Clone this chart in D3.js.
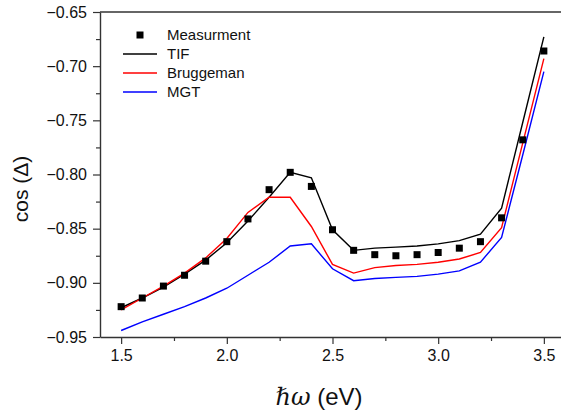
<!DOCTYPE html>
<html>
<head>
<meta charset="utf-8">
<script src="https://cdn.jsdelivr.net/npm/d3@7"></script>
<style>
  html, body { margin: 0; padding: 0; background: #fff; }
  svg { display: block; font-family: "Liberation Sans", Arial, sans-serif; }
</style>
</head>
<body>
<svg id="chart" width="561" height="413"></svg>
<script>
// Photon energy (eV)
const energy = [1.5, 1.6, 1.7, 1.8, 1.9, 2.0, 2.1, 2.2, 2.3, 2.4, 2.5,
                2.6, 2.7, 2.8, 2.9, 3.0, 3.1, 3.2, 3.3, 3.4, 3.5];

// cos(Δ) – measured
const measurement = [-0.922, -0.914, -0.903, -0.893, -0.880, -0.862, -0.841, -0.814, -0.798, -0.811, -0.851,
                     -0.870, -0.874, -0.875, -0.874, -0.872, -0.868, -0.862, -0.840, -0.768, -0.686];
// cos(Δ) – models
const tif        = [-0.923, -0.914, -0.904, -0.892, -0.879, -0.863, -0.843, -0.821, -0.798, -0.803, -0.851,
                    -0.870, -0.868, -0.867, -0.866, -0.864, -0.861, -0.855, -0.831, -0.752, -0.673];
const bruggeman  = [-0.925, -0.914, -0.903, -0.891, -0.877, -0.859, -0.835, -0.821, -0.821, -0.848, -0.883,
                    -0.891, -0.886, -0.884, -0.883, -0.881, -0.878, -0.872, -0.849, -0.771, -0.693];
const mgt        = [-0.944, -0.936, -0.929, -0.922, -0.914, -0.905, -0.893, -0.881, -0.866, -0.864, -0.887,
                    -0.898, -0.896, -0.895, -0.894, -0.892, -0.889, -0.881, -0.858, -0.782, -0.705];

const xTicks = [1.5, 2.0, 2.5, 3.0, 3.5];
const xMinor = [1.75, 2.25, 2.75, 3.25];
const yTicks = [-0.95, -0.90, -0.85, -0.80, -0.75, -0.70, -0.65];
const yMinor = [-0.925, -0.875, -0.825, -0.775, -0.725, -0.675];

const legendItems = [
  { name: "Measurment", type: "marker", color: "#000" },
  { name: "TIF", type: "line", color: "#000" },
  { name: "Bruggeman", type: "line", color: "#ff0000" },
  { name: "MGT", type: "line", color: "#0000ff" }
];

const svg = d3.select("#chart");
const plotL = 100, plotR = 565, plotT = 12, plotB = 337;
const axisColor = "#333";

const x = d3.scaleLinear().domain([1.4, 3.6]).range([plotL, plotR]);
const y = d3.scaleLinear().domain([-0.95, -0.65]).range([plotB, plotT]);

// Top frame line
svg.append("line")
  .attr("x1", plotL).attr("x2", 561)
  .attr("y1", plotT).attr("y2", plotT)
  .attr("stroke", axisColor).attr("stroke-width", 1.4);

// Bottom axis
const gx = svg.append("g").attr("transform", `translate(0,${plotB})`);
gx.call(d3.axisBottom(x).tickValues(xTicks).tickFormat(d3.format(".1f")).tickSize(7).tickSizeOuter(0));
gx.append("g").call(d3.axisBottom(x).tickValues(xMinor).tickFormat("").tickSize(4).tickSizeOuter(0))
  .select(".domain").remove();
gx.selectAll(".domain").attr("stroke", axisColor).attr("stroke-width", 1.4);
gx.selectAll(".tick line").attr("stroke", axisColor).attr("stroke-width", 1.2);
gx.selectAll(".tick text").attr("font-size", 16).attr("fill", "#111")
  .attr("font-family", "Liberation Sans, Arial, sans-serif").attr("dy", "0.95em").attr("y", 9);

// Left axis
const gy = svg.append("g").attr("transform", `translate(${plotL},0)`);
gy.call(d3.axisLeft(y).tickValues(yTicks).tickFormat(d3.format(".2f")).tickSize(7).tickSizeOuter(0));
gy.append("g").call(d3.axisLeft(y).tickValues(yMinor).tickFormat("").tickSize(4).tickSizeOuter(0))
  .select(".domain").remove();
gy.selectAll(".domain").attr("stroke", axisColor).attr("stroke-width", 1.4);
gy.selectAll(".tick line").attr("stroke", axisColor).attr("stroke-width", 1.2);
gy.selectAll(".tick text").attr("font-size", 16).attr("fill", "#111")
  .attr("font-family", "Liberation Sans, Arial, sans-serif").attr("x", -13);

// Model curves
const line = d3.line().x((d, i) => x(energy[i])).y(d => y(d));
[[tif, "#000"], [bruggeman, "#ff0000"], [mgt, "#0000ff"]].forEach(([s, c]) => {
  svg.append("path").datum(s)
    .attr("d", line)
    .attr("fill", "none")
    .attr("stroke", c)
    .attr("stroke-width", 1.4)
    .attr("stroke-linejoin", "miter");
});

// Measured points
const m = 7;
svg.append("g").selectAll("rect").data(measurement).join("rect")
  .attr("x", (d, i) => x(energy[i]) - m / 2)
  .attr("y", d => y(d) - m / 2)
  .attr("width", m).attr("height", m)
  .attr("fill", "#000");

// Legend
const lg = svg.append("g");
legendItems.forEach((it, i) => {
  const cy = 35 + i * 19;
  if (it.type === "marker") {
    lg.append("rect").attr("x", 140 - m / 2).attr("y", cy - m / 2)
      .attr("width", m).attr("height", m).attr("fill", it.color);
  } else {
    lg.append("line").attr("x1", 123).attr("x2", 157).attr("y1", cy).attr("y2", cy)
      .attr("stroke", it.color).attr("stroke-width", 1.4);
  }
  lg.append("text").attr("x", 167).attr("y", cy).attr("dy", "0.36em")
    .attr("font-size", 15).attr("fill", "#111").text(it.name);
});

// Axis titles
svg.append("text")
  .attr("transform", "translate(28,189) rotate(-90)")
  .attr("text-anchor", "middle")
  .attr("font-size", 21).attr("fill", "#111")
  .text("cos (\u0394)");

const xt = svg.append("text")
  .attr("x", 319).attr("y", 405)
  .attr("text-anchor", "middle")
  .attr("font-size", 24).attr("fill", "#111");
xt.append("tspan").attr("font-family", "DejaVu Serif, serif").attr("font-style", "italic").text("\u210F\u03C9");
xt.append("tspan").text(" (eV)");
</script>
</body>
</html>
